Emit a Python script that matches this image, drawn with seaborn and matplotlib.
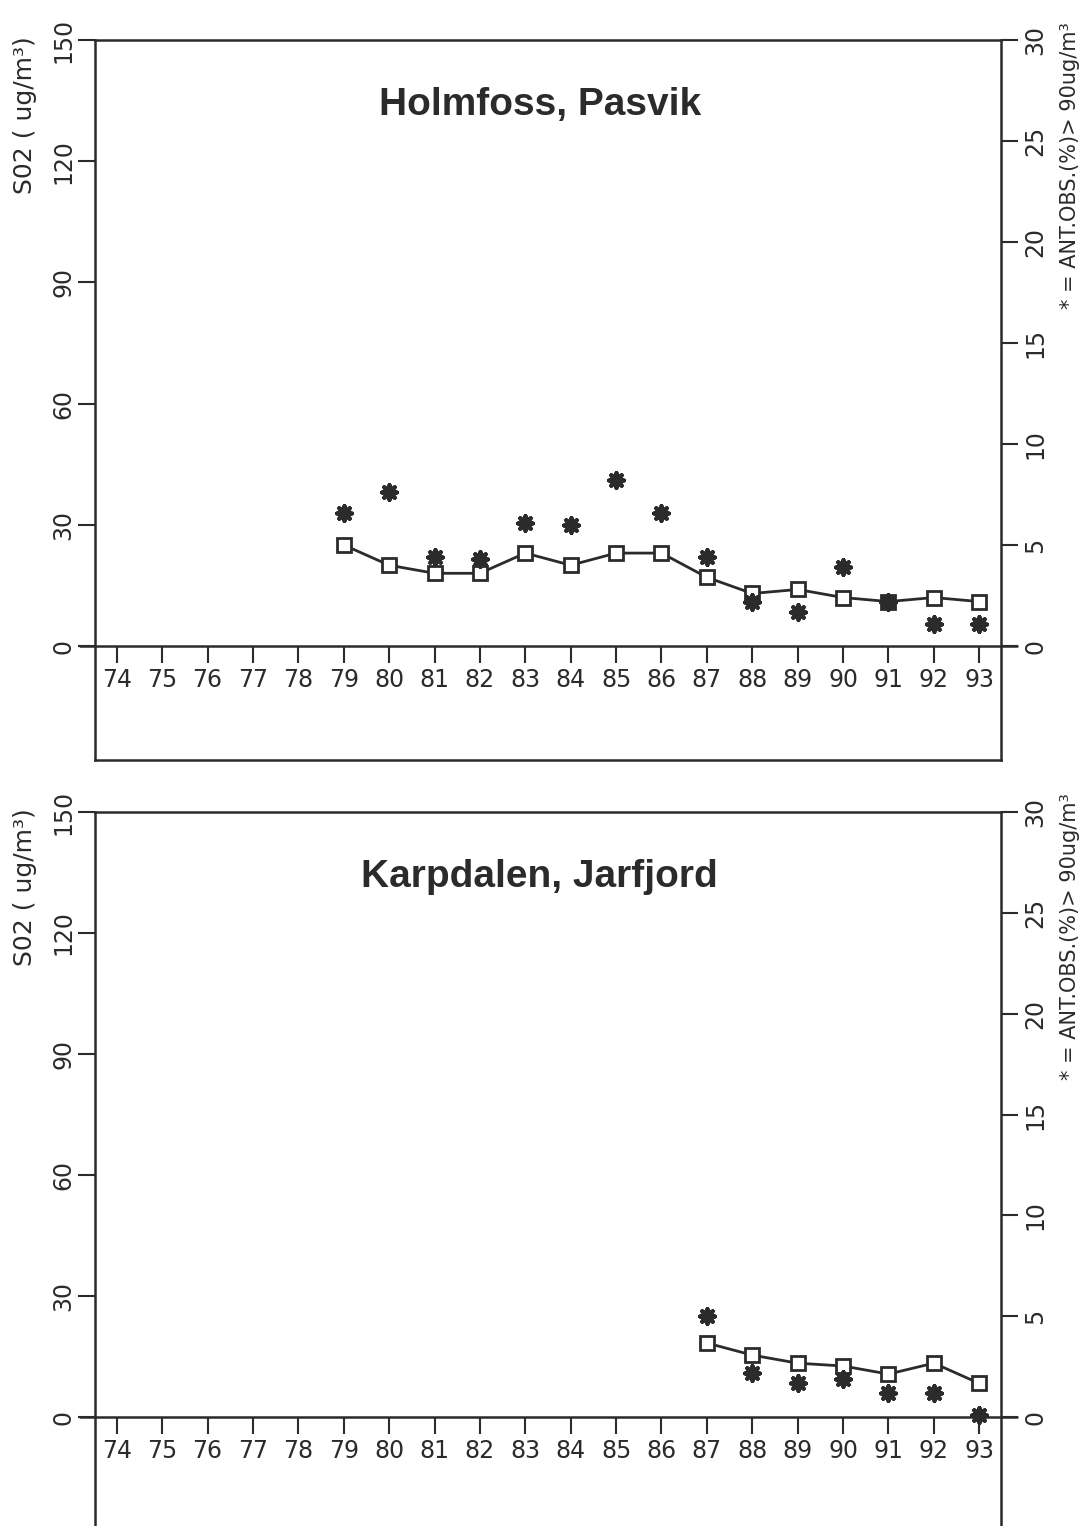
import matplotlib
matplotlib.use("Agg")
import matplotlib.pyplot as plt
import seaborn as sns
import pandas as pd

sns.set_style("white")
plt.rcParams['font.family'] = ['DejaVu Sans']

# Data
years = list(range(74, 94))

holm_years = [79, 80, 81, 82, 83, 84, 85, 86, 87, 88, 89, 90, 91, 92, 93]
holm_so2 = [25, 20, 18, 18, 23, 20, 23, 23, 17, 13, 14, 12, 11, 12, 11]
holm_pct = [6.6, 7.6, 4.4, 4.3, 6.1, 6.0, 8.2, 6.6, 4.4, 2.2, 1.7, 3.9, 2.2, 1.1, 1.1]

karp_years = [87, 88, 89, 90, 91, 92, 93]
karp_so2 = [18.4, 15.4, 13.4, 12.7, 10.7, 13.4, 8.4]
karp_pct = [5.0, 2.2, 1.7, 1.9, 1.2, 1.2, 0.1]

so2_ticks = [0, 30, 60, 90, 120, 150]
pct_ticks = [0, 5, 10, 15, 20, 25, 30]

INK = "#2b2b2b"
Y_LOW = -28.2


def panel(fig, rect, title, yrs, so2, pct):
    ax = fig.add_axes(rect)
    df = pd.DataFrame({"year": yrs, "so2": so2, "pct": pct})
    sns.lineplot(data=df, x="year", y="so2", ax=ax, color=INK, lw=2,
                 marker="s", markersize=10, markerfacecolor="white",
                 markeredgecolor=INK, markeredgewidth=2)
    ax.set_xlim(73.52, 93.48)
    ax.set_ylim(Y_LOW, 150)
    ax.set_yticks(so2_ticks)
    ax.set_yticklabels([str(t) for t in so2_ticks], rotation=90, va="center")
    ax.tick_params(axis="y", direction="out", length=12, width=1.5, pad=2,
                   labelsize=17, colors=INK, left=True)
    ax.set_xticks([])
    ax.set_xlabel("")
    ax.set_ylabel("")
    for s in ax.spines.values():
        s.set_color(INK)
        s.set_linewidth(1.8)

    # zero line with year ticks
    ax.axhline(0, xmin=-0.017, xmax=1.018, color=INK, lw=1.8, clip_on=False)
    y0 = (0 - Y_LOW) / (150 - Y_LOW)
    sec = ax.secondary_xaxis(y0)
    sec.set_xticks(years)
    sec.set_xticklabels([str(y) for y in years])
    sec.tick_params(direction="out", length=12, width=1.5, pad=4,
                    labelsize=17, colors=INK)
    sec.spines["bottom"].set_visible(False)

    ax2 = ax.twinx()
    sns.scatterplot(data=df, x="year", y="pct", ax=ax2, marker=(8, 2, 0),
                    s=110, color=INK, edgecolor=INK, linewidth=3, zorder=3)
    ax2.set_ylim(Y_LOW / 5, 30)
    ax2.set_yticks(pct_ticks)
    ax2.set_yticklabels([str(t) for t in pct_ticks], rotation=90, va="center")
    ax2.tick_params(axis="y", direction="out", length=12, width=1.5, pad=4,
                    labelsize=17, colors=INK, right=True)
    ax2.set_ylabel("")
    for s in ax2.spines.values():
        s.set_visible(False)

    ax.text(0.491, 0.91, title, transform=ax.transAxes, ha="center",
            va="center", fontsize=28, fontweight="bold", color=INK,
            family="Liberation Sans")
    ax.text(-0.077, 0.896, "S02 ( ug/m³)", transform=ax.transAxes,
            rotation=90, ha="center", va="center", fontsize=18, color=INK)
    ax.text(1.076, 0.826, "* = ANT.OBS.(%)> 90ug/m³", transform=ax.transAxes,
            rotation=90, ha="center", va="center", fontsize=15, color=INK)
    return ax


fig = plt.figure(figsize=(10.87, 15.26), dpi=100)
panel(fig, [0.0874, 0.502, 0.8335, 0.4718], "Holmfoss, Pasvik",
      holm_years, holm_so2, holm_pct)
panel(fig, [0.0874, -0.0033, 0.8335, 0.4712], "Karpdalen, Jarfjord",
      karp_years, karp_so2, karp_pct)

fig.savefig("out.png", dpi=100)
